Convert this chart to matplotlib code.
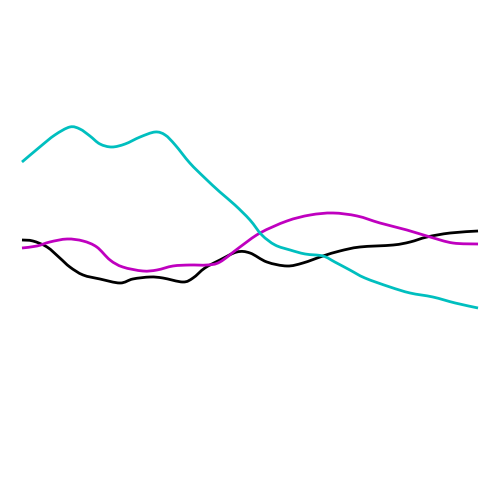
import matplotlib
matplotlib.use("Agg")
import matplotlib.pyplot as plt
from matplotlib.path import Path
from matplotlib.patches import PathPatch

# series (x on a 0-100 scale, y on a 0-100 scale)
cyan_x = [0, 3.9, 7.2, 10.5, 12.7, 14.9, 17.1, 19.7, 22.6, 25.9, 29.2, 31.4,
          33.6, 36.8, 40.1, 43.4, 46.7, 50.0, 52.6, 55.5, 58.8, 62.1, 66.0,
          68.6, 71.9, 75.2, 80.7, 85.1, 90.1, 95.0, 100]
cyan_y = [67.6, 70.6, 73.0, 74.6, 74.2, 72.8, 71.2, 70.6, 71.2, 72.6, 73.6, 73.0,
          71.0, 67.4, 64.4, 61.6, 59.0, 56.0, 53.0, 51.0, 50.0, 49.2, 48.8,
          47.6, 46.0, 44.4, 42.6, 41.4, 40.6, 39.4, 38.4]

black_x = [0, 2.4, 5.5, 8.3, 10.5, 13.4, 17.1, 21.5, 24.3, 28.1, 30.9, 35.3,
           37.5, 40.1, 43.4, 47.1, 50.0, 53.7, 58.1, 61.6, 66.0, 69.7, 74.1,
           81.4, 85.1, 88.8, 93.9, 100]
black_y = [52.0, 51.8, 50.6, 48.4, 46.6, 45.0, 44.2, 43.4, 44.2, 44.6, 44.4, 43.6,
           44.4, 46.4, 48.0, 49.6, 49.4, 47.6, 46.8, 47.4, 48.8, 49.8, 50.6,
           51.0, 51.6, 52.6, 53.4, 53.8]

magenta_x = [0, 3.3, 6.1, 9.9, 13.4, 16.4, 19.3, 22.1, 26.5, 29.6, 33.1, 36.8,
             40.6, 43.4, 47.8, 52.2, 58.1, 63.2, 68.2, 73.5, 78.5, 84.4, 89.5,
             94.5, 100]
magenta_y = [50.4, 50.8, 51.6, 52.2, 51.8, 50.6, 48.0, 46.6, 45.8, 46.0, 46.8, 47.0,
             47.0, 47.6, 50.6, 53.4, 55.8, 57.0, 57.4, 56.8, 55.4, 54.0, 52.6,
             51.4, 51.2]


def smooth_path(xs, ys):
    """Catmull-Rom spline through the points, as cubic bezier segments."""
    pts = list(zip(xs, ys))
    verts = [pts[0]]
    codes = [Path.MOVETO]
    for i in range(len(pts) - 1):
        p0 = pts[i - 1] if i > 0 else pts[i]
        p1 = pts[i]
        p2 = pts[i + 1]
        p3 = pts[i + 2] if i + 2 < len(pts) else pts[i + 1]
        c1 = (p1[0] + (p2[0] - p0[0]) / 6, p1[1] + (p2[1] - p0[1]) / 6)
        c2 = (p2[0] - (p3[0] - p1[0]) / 6, p2[1] - (p3[1] - p1[1]) / 6)
        verts += [c1, c2, p2]
        codes += [Path.CURVE4] * 3
    return Path(verts, codes)


fig = plt.figure(figsize=(5, 5), dpi=100)
ax = fig.add_axes([0, 0, 1, 1])
for xs, ys, col in [(black_x, black_y, "k"),
                    (magenta_x, magenta_y, "m"),
                    (cyan_x, cyan_y, "c")]:
    ax.add_patch(PathPatch(smooth_path(xs, ys), fill=False, edgecolor=col,
                           lw=2.0, joinstyle="round", capstyle="butt"))
ax.set_xlim(-4.82, 104.82)
ax.set_ylim(0, 100)
ax.axis("off")
fig.savefig("out.png", dpi=100)
